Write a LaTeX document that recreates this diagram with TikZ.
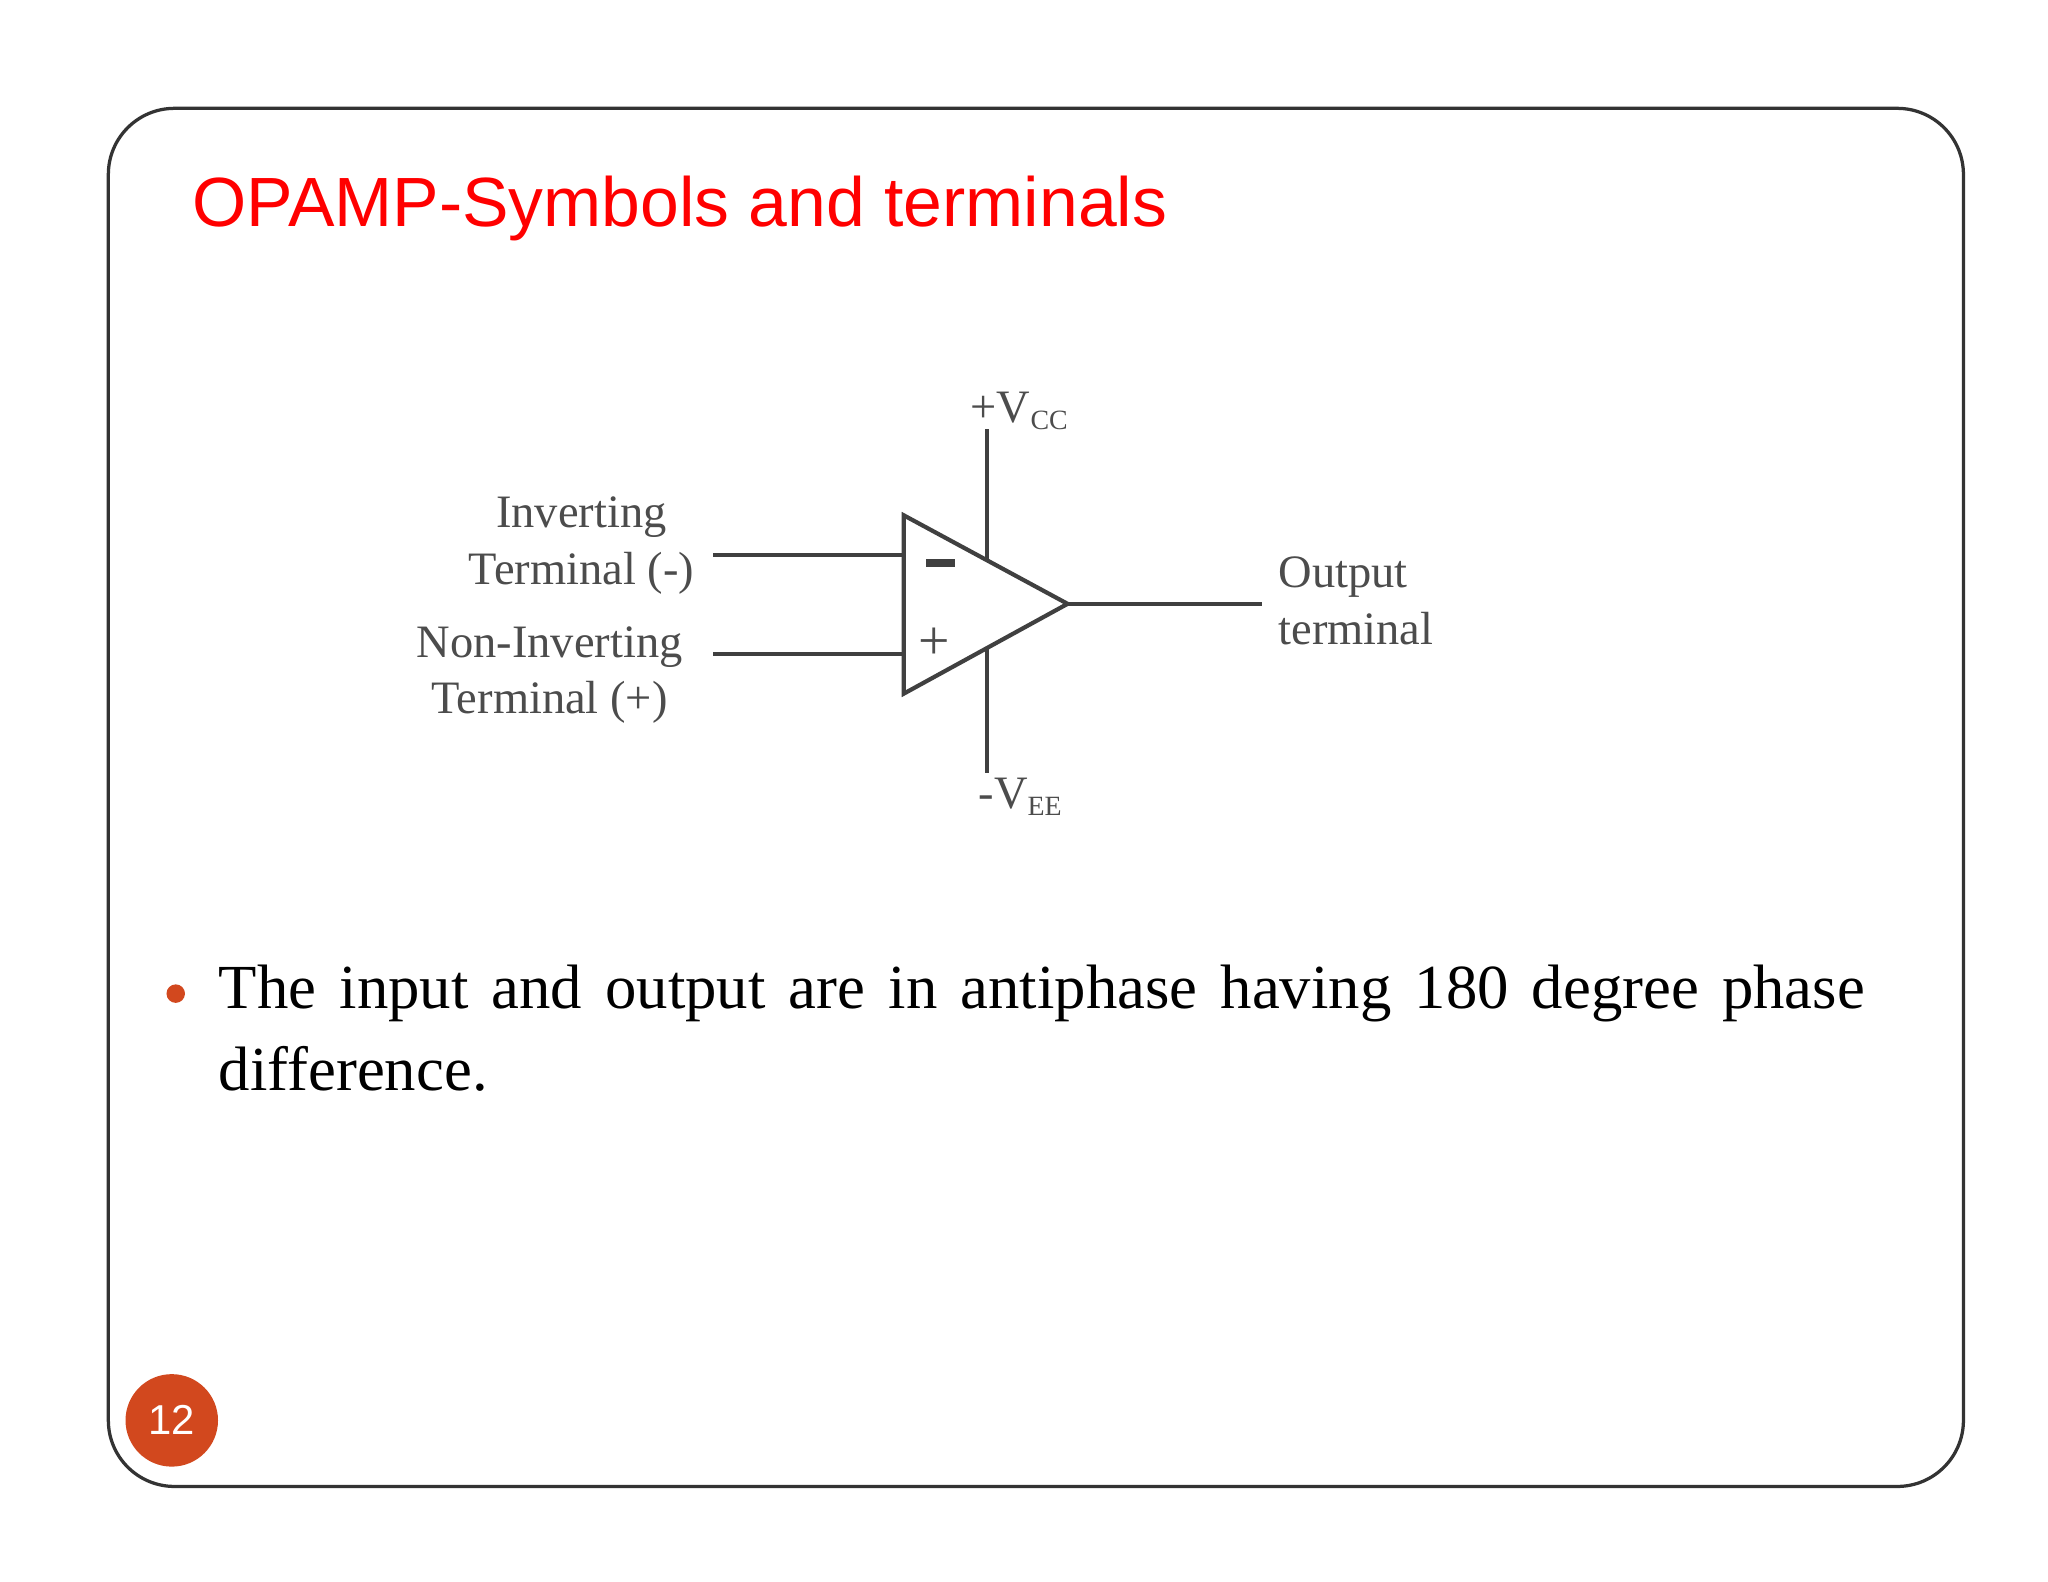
\documentclass[tikz,border=0pt]{standalone}
\usepackage{fontspec}
\setmainfont{Liberation Serif}
\newfontfamily\titlefont{Liberation Sans}
\begin{document}
\begin{tikzpicture}[x=0.01cm,y=-0.01cm,
  wire/.style={draw=black!75,line width=0.9pt},
  lab/.style={text=black!70,font=\fontsize{10}{12.2}\selectfont,inner sep=0pt}]
\definecolor{acc}{RGB}{210,72,30}
\useasboundingbox (0,0) rectangle (1550,1197);
\fill[white] (0,0) rectangle (1550,1197);
\draw[black!80,line width=0.7pt,rounded corners=0.5cm] (82,82) rectangle (1486,1125);
\node[anchor=west,text=red,font=\titlefont\fontsize{15}{18}\selectfont,inner sep=0pt] (title) at (145,158) {OPAMP-Symbols and terminals};
% op-amp
\coordinate (A) at (684,390); \coordinate (B) at (684,525); \coordinate (C) at (808,457);
\draw[wire] (A) -- (C) -- (B) -- cycle;
\coordinate (inv) at (684,420); \coordinate (ninv) at (684,495);
\coordinate (invs) at (540,420); \coordinate (ninvs) at (540,495);
\coordinate (oute) at (955,457);
\coordinate (vcct) at (747,325); \coordinate (vccb) at (747,424);
\coordinate (veet) at (747,491); \coordinate (veeb) at (747,585);
\draw[wire] (invs) -- (inv);
\draw[wire] (ninvs) -- (ninv);
\draw[wire] (C) -- (oute);
\draw[wire] (vcct) -- (vccb);
\draw[wire] (veet) -- (veeb);
\draw[black!75,line width=1.6pt] (701,426) -- (723,426);
\node[lab,font=\fontsize{12}{14}\selectfont] (plus) at (707,487) {+};
\node[lab,align=center] (invl) at (440,413) {Inverting\\Terminal (-)};
\node[lab,align=center] (ninvl) at (416,511) {Non-Inverting\\Terminal (+)};
\node[lab,align=left,anchor=west] (outl) at (967,455) {Output\\terminal};
\node[lab,anchor=base west] (vcc) at (734,320) {+V\textsubscript{\fontsize{6}{7}\selectfont CC}};
\node[lab,anchor=base west] (vee) at (740,612) {-V\textsubscript{\fontsize{6}{7}\selectfont EE}};
% bullet text
\fill[acc] (133,752) circle (7);
\node[anchor=north west,text width=12.45cm,align=justify,inner sep=0pt,
  font=\fontsize{13.5}{17.5}\selectfont] (body) at (165,730)
  {The input and output are in antiphase having 180 degree phase difference.};
% page number
\fill[acc] (130,1075) circle (35);
\node[text=white,font=\titlefont\fontsize{9}{10}\selectfont] (pg) at (130,1075) {12};
\end{tikzpicture}
\end{document}
